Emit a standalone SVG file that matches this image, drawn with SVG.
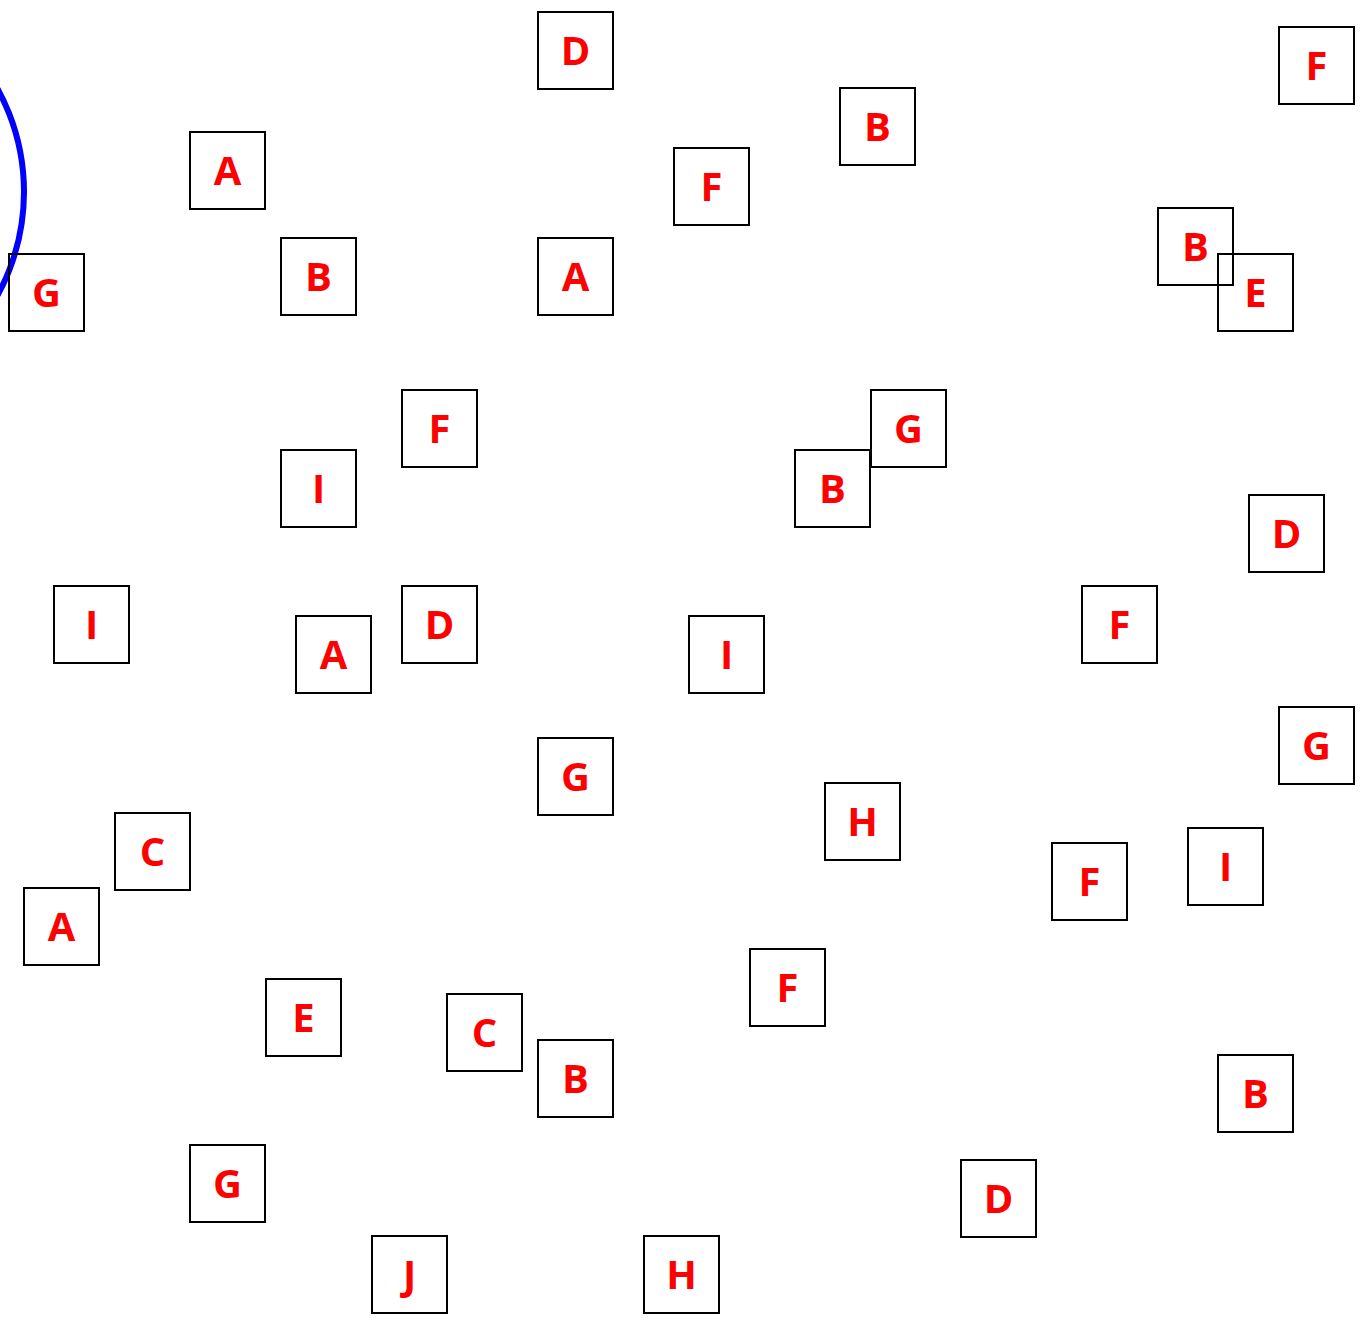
<svg xmlns="http://www.w3.org/2000/svg" width="1363" height="1326" viewBox="0 0 1363 1326">
<style>
.b rect{fill:none;stroke:#000;stroke-width:2}
.b text{fill:#f00;font-family:"Open Sans","Liberation Sans",sans-serif;font-weight:bold;font-size:40px;text-anchor:middle}
</style>
<rect width="1363" height="1326" fill="#fff"/>
<circle cx="-190" cy="192" r="214" fill="none" stroke="#00f" stroke-width="6"/>
<g class="b">
<g id="n1"><rect x="538" y="12" width="75" height="77"/><text x="575.5" y="65">D</text></g>
<g id="n2"><rect x="1279" y="27" width="75" height="77"/><text x="1316.5" y="80">F</text></g>
<g id="n3"><rect x="840" y="88" width="75" height="77"/><text x="877.5" y="141">B</text></g>
<g id="n4"><rect x="190" y="132" width="75" height="77"/><text x="227.5" y="185">A</text></g>
<g id="n5"><rect x="674" y="148" width="75" height="77"/><text x="711.5" y="201">F</text></g>
<g id="n6"><rect x="1158" y="208" width="75" height="77"/><text x="1195.5" y="261">B</text></g>
<g id="n7"><rect x="1218" y="254" width="75" height="77"/><text x="1255.5" y="307">E</text></g>
<g id="n8"><rect x="9" y="254" width="75" height="77"/><text x="46.5" y="307">G</text></g>
<g id="n9"><rect x="281" y="238" width="75" height="77"/><text x="318.5" y="291">B</text></g>
<g id="n10"><rect x="538" y="238" width="75" height="77"/><text x="575.5" y="291">A</text></g>
<g id="n11"><rect x="402" y="390" width="75" height="77"/><text x="439.5" y="443">F</text></g>
<g id="n12"><rect x="871" y="390" width="75" height="77"/><text x="908.5" y="443">G</text></g>
<g id="n13"><rect x="281" y="450" width="75" height="77"/><text x="318.5" y="503">I</text></g>
<g id="n14"><rect x="795" y="450" width="75" height="77"/><text x="832.5" y="503">B</text></g>
<g id="n15"><rect x="1249" y="495" width="75" height="77"/><text x="1286.5" y="548">D</text></g>
<g id="n16"><rect x="54" y="586" width="75" height="77"/><text x="91.5" y="639">I</text></g>
<g id="n17"><rect x="402" y="586" width="75" height="77"/><text x="439.5" y="639">D</text></g>
<g id="n18"><rect x="1082" y="586" width="75" height="77"/><text x="1119.5" y="639">F</text></g>
<g id="n19"><rect x="296" y="616" width="75" height="77"/><text x="333.5" y="669">A</text></g>
<g id="n20"><rect x="689" y="616" width="75" height="77"/><text x="726.5" y="669">I</text></g>
<g id="n21"><rect x="1279" y="707" width="75" height="77"/><text x="1316.5" y="760">G</text></g>
<g id="n22"><rect x="538" y="738" width="75" height="77"/><text x="575.5" y="791">G</text></g>
<g id="n23"><rect x="825" y="783" width="75" height="77"/><text x="862.5" y="836">H</text></g>
<g id="n24"><rect x="115" y="813" width="75" height="77"/><text x="152.5" y="866">C</text></g>
<g id="n25"><rect x="1188" y="828" width="75" height="77"/><text x="1225.5" y="881">I</text></g>
<g id="n26"><rect x="1052" y="843" width="75" height="77"/><text x="1089.5" y="896">F</text></g>
<g id="n27"><rect x="24" y="888" width="75" height="77"/><text x="61.5" y="941">A</text></g>
<g id="n28"><rect x="750" y="949" width="75" height="77"/><text x="787.5" y="1002">F</text></g>
<g id="n29"><rect x="266" y="979" width="75" height="77"/><text x="303.5" y="1032">E</text></g>
<g id="n30"><rect x="447" y="994" width="75" height="77"/><text x="484.5" y="1047">C</text></g>
<g id="n31"><rect x="538" y="1040" width="75" height="77"/><text x="575.5" y="1093">B</text></g>
<g id="n32"><rect x="1218" y="1055" width="75" height="77"/><text x="1255.5" y="1108">B</text></g>
<g id="n33"><rect x="190" y="1145" width="75" height="77"/><text x="227.5" y="1198">G</text></g>
<g id="n34"><rect x="961" y="1160" width="75" height="77"/><text x="998.5" y="1213">D</text></g>
<g id="n35"><rect x="372" y="1236" width="75" height="77"/><text x="409.5" y="1289">J</text></g>
<g id="n36"><rect x="644" y="1236" width="75" height="77"/><text x="681.5" y="1289">H</text></g>
</g>
<g id="connectors"></g>
</svg>
